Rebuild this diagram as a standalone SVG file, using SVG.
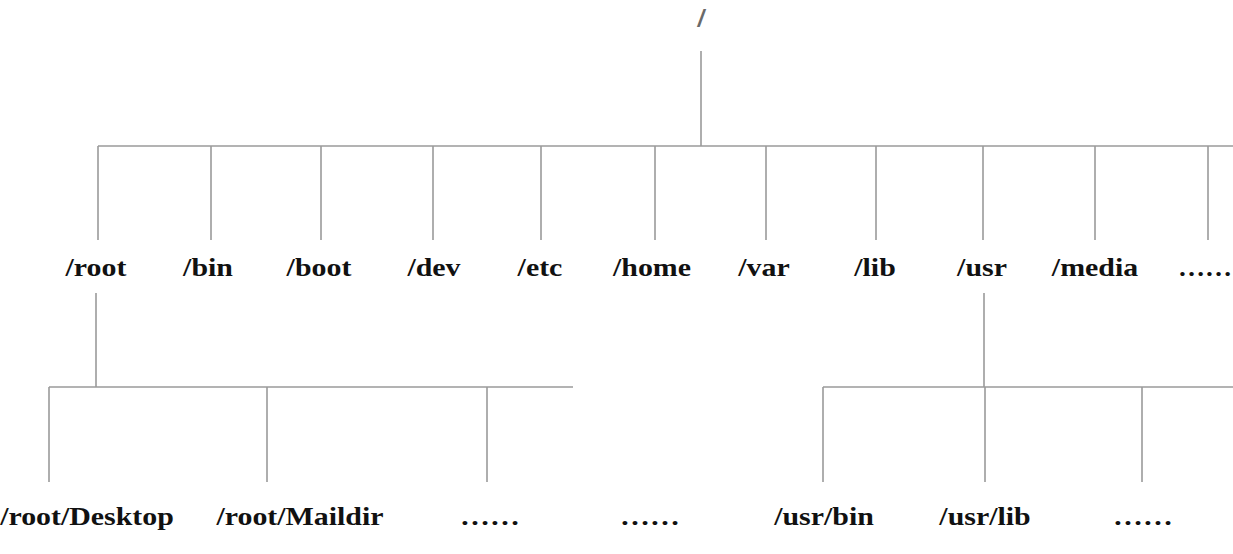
<svg xmlns="http://www.w3.org/2000/svg" width="1233" height="554" viewBox="0 0 1233 554">
<style>
.c line{stroke:#9a9a9a;stroke-width:1.6;fill:none}
.t{font-family:"Liberation Serif","Times New Roman",serif;font-weight:bold;font-size:26px;fill:#111;text-anchor:middle}
.r{font-family:"Liberation Sans",Arial,sans-serif;font-weight:bold;font-style:italic;font-size:23px;fill:#6a6a6a;text-anchor:middle}
</style>
<rect width="1233" height="554" fill="#fff"/>
<g id="connectors" class="c">
<line x1="701" y1="51" x2="701" y2="146"/>
<line x1="98" y1="146" x2="1233" y2="146"/>
<line x1="98" y1="146" x2="98" y2="240"/>
<line x1="211" y1="146" x2="211" y2="240"/>
<line x1="321" y1="146" x2="321" y2="240"/>
<line x1="433" y1="146" x2="433" y2="240"/>
<line x1="541" y1="146" x2="541" y2="240"/>
<line x1="655" y1="146" x2="655" y2="240"/>
<line x1="766" y1="146" x2="766" y2="240"/>
<line x1="876" y1="146" x2="876" y2="240"/>
<line x1="983" y1="146" x2="983" y2="240"/>
<line x1="1095" y1="146" x2="1095" y2="240"/>
<line x1="1208" y1="146" x2="1208" y2="240"/>
<line x1="96" y1="293" x2="96" y2="387"/>
<line x1="49" y1="387" x2="573" y2="387"/>
<line x1="49" y1="387" x2="49" y2="482"/>
<line x1="267" y1="387" x2="267" y2="482"/>
<line x1="487" y1="387" x2="487" y2="482"/>
<line x1="984" y1="293" x2="984" y2="387"/>
<line x1="823" y1="387" x2="1233" y2="387"/>
<line x1="823" y1="387" x2="823" y2="482"/>
<line x1="985" y1="387" x2="985" y2="482"/>
<line x1="1142" y1="387" x2="1142" y2="482"/>
</g>
<g id="n-root-dir"><text class="r" transform="translate(701,27)">/</text></g>
<g id="n-root"><text class="t" transform="translate(96,276) scale(1.15 1)">/root</text></g>
<g id="n-bin"><text class="t" transform="translate(208,276) scale(1.15 1)">/bin</text></g>
<g id="n-boot"><text class="t" transform="translate(319,276) scale(1.15 1)">/boot</text></g>
<g id="n-dev"><text class="t" transform="translate(434,276) scale(1.15 1)">/dev</text></g>
<g id="n-etc"><text class="t" transform="translate(540,276) scale(1.15 1)">/etc</text></g>
<g id="n-home"><text class="t" transform="translate(652,276) scale(1.15 1)">/home</text></g>
<g id="n-var"><text class="t" transform="translate(764,276) scale(1.15 1)">/var</text></g>
<g id="n-lib"><text class="t" transform="translate(875,276) scale(1.15 1)">/lib</text></g>
<g id="n-usr"><text class="t" transform="translate(982,276) scale(1.15 1)">/usr</text></g>
<g id="n-media"><text class="t" transform="translate(1095,276) scale(1.15 1)">/media</text></g>
<g id="n-more1"><text class="t" transform="translate(1178,276) scale(1.04 1)" style="text-anchor:start">……</text></g>
<g id="n-desktop"><text class="t" transform="translate(87,525) scale(1.15 1)">/root/Desktop</text></g>
<g id="n-maildir"><text class="t" transform="translate(300,525) scale(1.15 1)">/root/Maildir</text></g>
<g id="n-more2"><text class="t" transform="translate(490,525) scale(1.15 1)">……</text></g>
<g id="n-more3"><text class="t" transform="translate(650,525) scale(1.15 1)">……</text></g>
<g id="n-usrbin"><text class="t" transform="translate(824,525) scale(1.15 1)">/usr/bin</text></g>
<g id="n-usrlib"><text class="t" transform="translate(985,525) scale(1.15 1)">/usr/lib</text></g>
<g id="n-more4"><text class="t" transform="translate(1143,525) scale(1.15 1)">……</text></g>
</svg>
